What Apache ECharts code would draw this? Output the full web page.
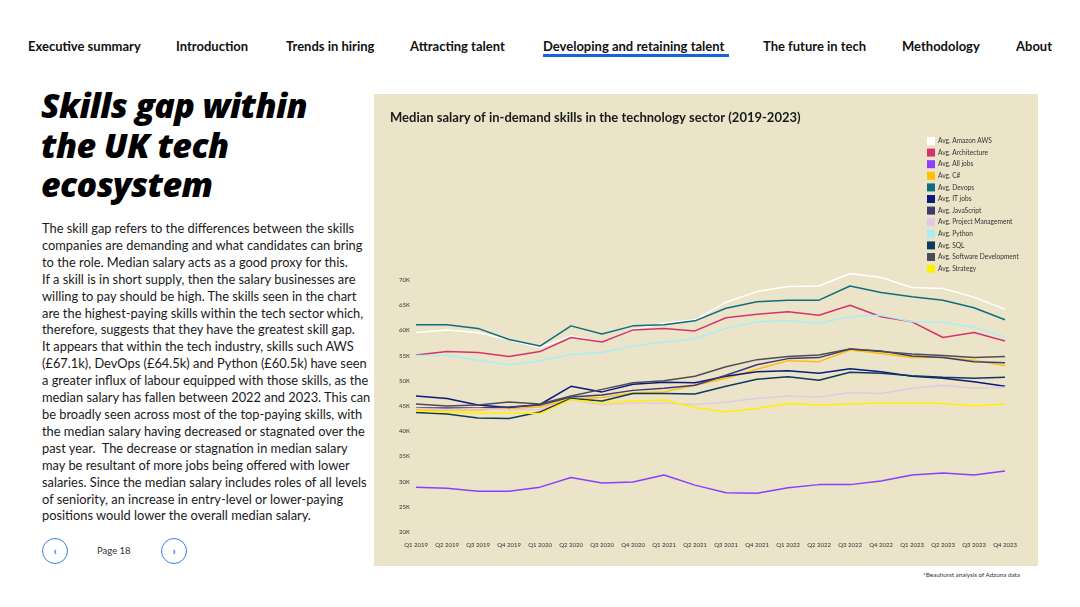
<!DOCTYPE html>
<html>
<head>
<meta charset="utf-8">
<script src="https://cdn.jsdelivr.net/npm/echarts@6/dist/echarts.min.js"></script>
<style>
  html, body { margin:0; padding:0; background:#fff; width:1080px; height:607px; overflow:hidden; font-family: Lato, "Noto Sans", sans-serif; color:#111; }
  .nav { position:absolute; top:38px; font-size:13px; font-weight:700; color:#111; white-space:nowrap; }
  .active-line { position:absolute; left:543px; top:54px; width:186px; height:3px; background:#1565d8; }
  h1 { position:absolute; left:41px; top:86px; margin:0; font-family:"Open Sans", Lato, sans-serif; font-size:34px; line-height:39.5px; font-weight:800; font-style:italic; letter-spacing:-0.6px; color:#000; }
  .body { position:absolute; left:42px; top:220px; font-size:12.85px; line-height:16.9px; color:#1a1a1a; white-space:nowrap; }
  .circ { position:absolute; width:24px; height:24px; border:1.3px solid #3b7fe0; border-radius:50%; color:#2f74dd; font-size:11px; font-weight:700; text-align:center; line-height:24px; }
  .page { position:absolute; left:97px; top:545px; font-size:9.5px; color:#333; }
  .foot { position:absolute; left:923px; top:571px; font-size:6.3px; color:#333; }
  #chart { position:absolute; left:374px; top:94px; width:664px; height:472px; background:#ebe4c9; }
</style>
</head>
<body>
<div class="nav" style="left:28px">Executive summary</div>
<div class="nav" style="left:176px">Introduction</div>
<div class="nav" style="left:286px">Trends in hiring</div>
<div class="nav" style="left:410px">Attracting talent</div>
<div class="nav" style="left:543px">Developing and retaining talent</div>
<div class="nav" style="left:763px">The future in tech</div>
<div class="nav" style="left:902px">Methodology</div>
<div class="nav" style="left:1016px">About</div>
<div class="active-line"></div>

<h1>Skills gap within<br>the UK tech<br>ecosystem</h1>

<div class="body">The skill gap refers to the differences between the skills<br>
companies are demanding and what candidates can bring<br>
to the role. Median salary acts as a good proxy for this.<br>
If a skill is in short supply, then the salary businesses are<br>
willing to pay should be high. The skills seen in the chart<br>
are the highest-paying skills within the tech sector which,<br>
therefore, suggests that they have the greatest skill gap.<br>
It appears that within the tech industry, skills such AWS<br>
(£67.1k), DevOps (£64.5k) and Python (£60.5k) have seen<br>
a greater influx of labour equipped with those skills, as the<br>
median salary has fallen between 2022 and 2023. This can<br>
be broadly seen across most of the top-paying skills, with<br>
the median salary having decreased or stagnated over the<br>
past year.&nbsp; The decrease or stagnation in median salary<br>
may be resultant of more jobs being offered with lower<br>
salaries. Since the median salary includes roles of all levels<br>
of seniority, an increase in entry-level or lower-paying<br>
positions would lower the overall median salary.</div>

<div class="circ" style="left:42px; top:538px;">&lsaquo;</div>
<div class="page">Page 18</div>
<div class="circ" style="left:161px; top:538px;">&rsaquo;</div>

<div id="chart"></div>
<div class="foot">*Beauhurst analysis of Adzuna data</div>

<script>
const quarters = ["Q1 2019","Q2 2019","Q3 2019","Q4 2019","Q1 2020","Q2 2020","Q3 2020","Q4 2020","Q1 2021","Q2 2021","Q3 2021","Q4 2021","Q1 2022","Q2 2022","Q3 2022","Q4 2022","Q1 2023","Q2 2023","Q3 2023","Q4 2023"];

const amazonAWS   = [59600,60100,59600,58100,56600,58900,57700,60200,61400,62100,65600,67700,68700,68800,71300,70500,68500,68300,66600,64200];
const architecture= [55100,55800,55600,54800,55800,58600,57700,60100,60400,59900,62500,63200,63700,63000,65000,62700,61700,58600,59600,57900];
const allJobs     = [28900,28700,28100,28100,28900,30800,29700,29900,31300,29300,27800,27700,28800,29400,29400,30100,31300,31700,31300,32100];
const cSharp      = [44200,44200,44200,44500,44800,46400,46700,47600,47800,49100,50500,52300,54000,53800,56100,55400,54600,54600,54100,53000];
const devops      = [61100,61100,60400,58200,56900,60900,59300,60900,61100,61900,64400,65700,66000,66000,68800,67500,66700,66000,64500,62100];
const itJobs      = [47000,46500,45200,44700,45300,48900,47800,49300,49700,49600,50900,51800,52000,51500,52400,51800,50900,50500,49800,48900];
const javaScript  = [44600,44600,44600,44800,45200,46800,47200,48100,48500,49100,51100,53200,54400,54600,56300,55900,54900,54600,53800,53600];
const projectMgmt = [44500,44300,44500,44200,44300,46200,45200,45600,45600,45300,45800,46500,47000,46800,47700,47500,48500,49100,48500,48700];
const python      = [55000,55000,54100,53200,54000,55200,55600,56900,57700,58400,60400,61700,61900,61400,62700,63000,61700,61600,60600,58700];
const sql         = [43700,43400,42600,42500,43800,46500,46000,47500,47500,47400,48900,50300,50800,50100,51700,51500,51000,50700,50500,50700];
const softwareDev = [45400,45000,45200,45800,45400,47000,48300,49600,50000,50900,52800,54200,54800,55100,56300,55800,55300,55000,54600,54800];
const strategy    = [44000,43800,43600,43600,43500,46300,45600,46000,46200,44700,43800,44500,45500,45200,45400,45600,45600,45500,45000,45400];

const yTicks = [20000,25000,30000,35000,40000,45000,50000,55000,60000,65000,70000];

const seriesDefs = [
  ["Avg. Amazon AWS", amazonAWS, "#ffffff"],
  ["Avg. Architecture", architecture, "#d6336c"],
  ["Avg. All jobs", allJobs, "#8a3ffc"],
  ["Avg. C#", cSharp, "#ffbe0a"],
  ["Avg. Devops", devops, "#0e6e7e"],
  ["Avg. IT jobs", itJobs, "#0b1a7e"],
  ["Avg. JavaScript", javaScript, "#403a70"],
  ["Avg. Project Management", projectMgmt, "#e2c9e6"],
  ["Avg. Python", python, "#a8eef3"],
  ["Avg. SQL", sql, "#0f3a5e"],
  ["Avg. Software Development", softwareDev, "#4d4d53"],
  ["Avg. Strategy", strategy, "#fff000"]
];

const chart = echarts.init(document.getElementById('chart'), null, {renderer:'canvas'});
chart.setOption({
  backgroundColor: '#ebe4c9',
  animation: false,
  textStyle: { fontFamily: 'Lato, "Noto Sans", sans-serif' },
  title: {
    text: 'Median salary of in-demand skills in the technology sector (2019-2023)',
    left: 11, top: 12,
    textStyle: { fontSize: 13, fontWeight: 700, color: '#1a1a1a', fontFamily: 'Lato, sans-serif' }
  },
  legend: {
    orient: 'vertical', left: 548, top: 38,
    itemWidth: 8, itemHeight: 8, itemGap: 3.6,
    icon: 'rect',
    textStyle: { fontSize: 6.6, color: '#333', padding: [0,0,0,-2] },
    data: seriesDefs.map(d => d[0])
  },
  grid: { left: 42, right: 33, top: 186, bottom: 34 },
  xAxis: {
    type: 'category', data: quarters, boundaryGap: false,
    axisLine: { show: false }, axisTick: { show: false },
    axisLabel: { fontSize: 6, color: '#333', margin: 10, interval: 0 }
  },
  yAxis: {
    type: 'value', min: 20000, max: 70000, interval: 5000,
    axisLine: { show: false }, axisTick: { show: false }, splitLine: { show: false },
    axisLabel: { fontSize: 6, color: '#333', margin: 17, align: 'left',
      formatter: v => yTicks.includes(v) ? (v/1000) + 'K' : '' }
  },
  series: seriesDefs.map(d => ({
    name: d[0], type: 'line', data: d[1], showSymbol: false, symbol: 'none',
    clip: false, color: d[2],
    lineStyle: { width: 1.5, color: d[2] }
  }))
});
</script>
</body>
</html>
